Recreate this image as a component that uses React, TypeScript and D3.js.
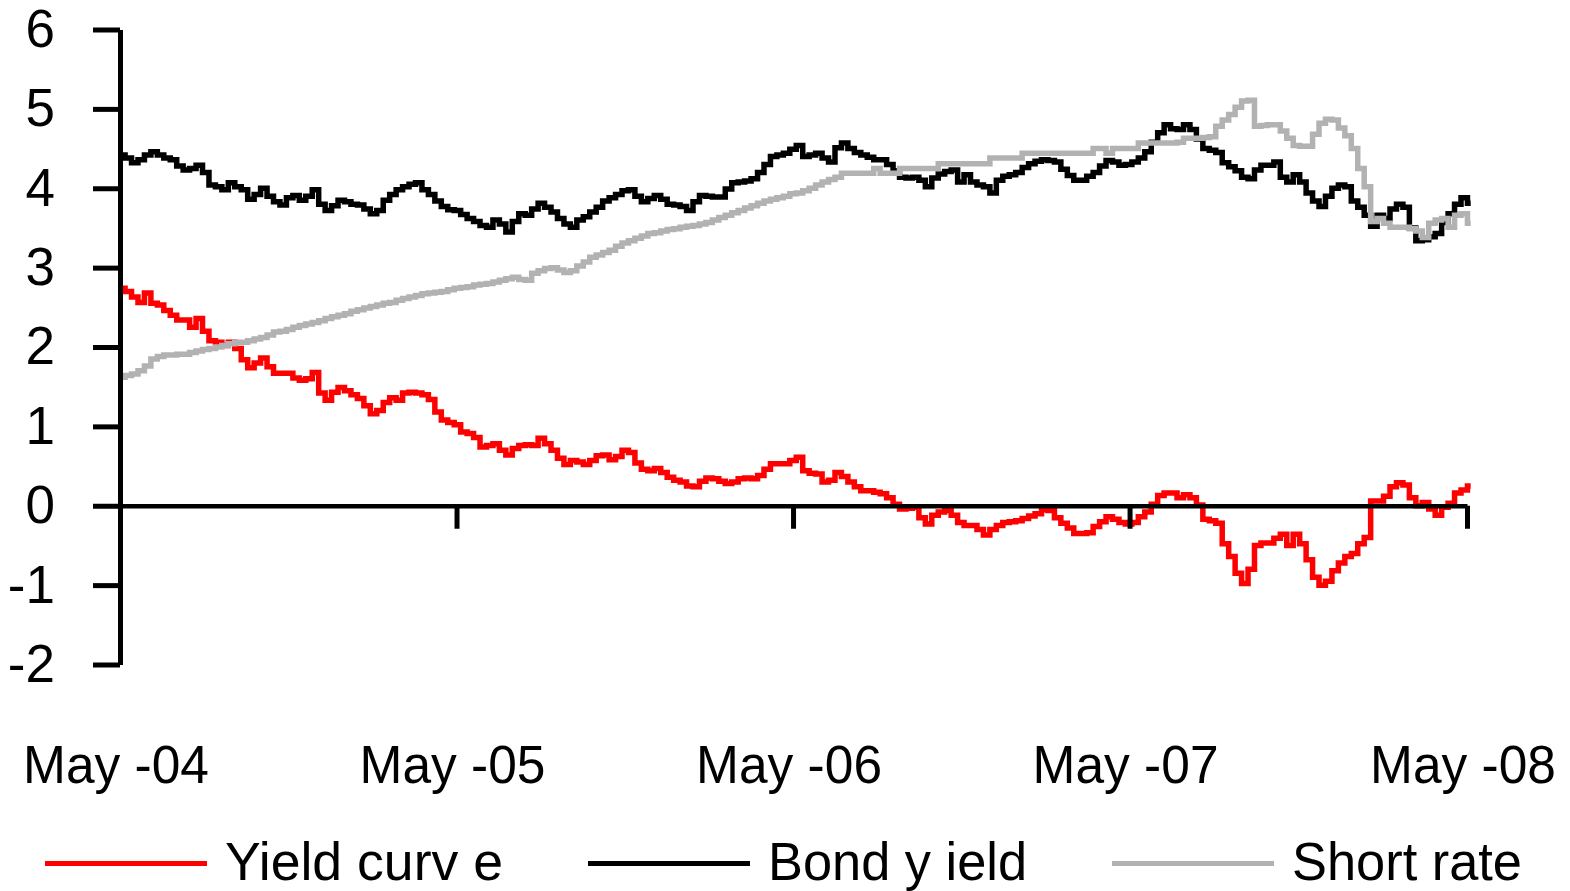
import React, { useRef, useEffect } from "react";
import * as d3 from "d3";

// weekly readings, May-04 .. May-08
const yieldCurve = [
  2.74, 2.7, 2.63, 2.56, 2.68, 2.55, 2.53, 2.46, 2.4, 2.34,
  2.34, 2.25, 2.36, 2.2, 2.08, 2.06, 2.02, 2.06, 1.98, 1.84,
  1.74, 1.8, 1.86, 1.75, 1.67, 1.67, 1.67, 1.61, 1.58, 1.6,
  1.68, 1.42, 1.33, 1.43, 1.49, 1.45, 1.4, 1.35, 1.26, 1.16,
  1.2, 1.3, 1.36, 1.33, 1.42, 1.43, 1.42, 1.4, 1.34, 1.18,
  1.08, 1.05, 1.02, 0.93, 0.91, 0.86, 0.74, 0.76, 0.78, 0.7,
  0.64, 0.72, 0.76, 0.77, 0.76, 0.85, 0.78, 0.7, 0.6, 0.52,
  0.57, 0.55, 0.52, 0.57, 0.63, 0.64, 0.58, 0.62, 0.7, 0.67,
  0.54, 0.46, 0.44, 0.47, 0.42, 0.36, 0.32, 0.3, 0.25, 0.24,
  0.31, 0.35, 0.34, 0.31, 0.28, 0.3, 0.34, 0.35, 0.34, 0.38,
  0.46, 0.53, 0.53, 0.53, 0.57, 0.61, 0.44, 0.41, 0.4, 0.3,
  0.32, 0.42, 0.37, 0.3, 0.24, 0.19, 0.19, 0.17, 0.15, 0.1,
  0.02, -0.04, -0.03, -0.02, -0.15, -0.23, -0.12, -0.08, -0.06, -0.12,
  -0.21, -0.25, -0.25, -0.3, -0.37, -0.3, -0.25, -0.21, -0.2, -0.19,
  -0.16, -0.13, -0.1, -0.05, -0.06, -0.15, -0.22, -0.28, -0.35, -0.35,
  -0.34, -0.26, -0.2, -0.14, -0.17, -0.21, -0.23, -0.21, -0.14, -0.08,
  0.02, 0.13, 0.16, 0.16, 0.1, 0.14, 0.1, 0.01, -0.17, -0.19,
  -0.22, -0.48, -0.64, -0.85, -0.98, -0.8, -0.5, -0.47, -0.47, -0.41,
  -0.36, -0.5, -0.36, -0.48, -0.68, -0.9, -1.0, -0.95, -0.82, -0.72,
  -0.64, -0.6, -0.48, -0.4, 0.06, 0.06, 0.12, 0.24, 0.29, 0.26,
  0.1, 0.0, 0.04, -0.04, -0.12, -0.02, 0.03, 0.16, 0.2, 0.25,
];

const bondYield = [
  4.42, 4.38, 4.32, 4.36, 4.42, 4.46, 4.42, 4.38, 4.36, 4.28,
  4.23, 4.25, 4.29, 4.2, 4.04, 4.02, 3.98, 4.07, 4.02, 3.98,
  3.86, 3.92, 4.0, 3.9, 3.83, 3.79, 3.88, 3.91, 3.85, 3.9,
  3.98, 3.8, 3.72, 3.78, 3.85, 3.83, 3.8, 3.79, 3.74, 3.68,
  3.72, 3.85, 3.92, 3.98, 4.02, 4.05, 4.07, 3.98, 3.92, 3.84,
  3.77, 3.73, 3.72, 3.67, 3.62, 3.58, 3.53, 3.51, 3.6, 3.55,
  3.45, 3.58, 3.68, 3.66, 3.74, 3.81, 3.76, 3.7, 3.62, 3.55,
  3.51, 3.6, 3.64, 3.7, 3.76, 3.84, 3.88, 3.92, 3.97, 3.98,
  3.9, 3.83, 3.87, 3.91, 3.86, 3.8, 3.79, 3.77, 3.72, 3.83,
  3.91, 3.9, 3.89, 3.89, 3.99, 4.07, 4.08, 4.09, 4.12, 4.2,
  4.3, 4.4, 4.42, 4.44, 4.49, 4.54, 4.4, 4.42, 4.44, 4.38,
  4.33, 4.51, 4.57, 4.5, 4.45, 4.42, 4.39, 4.36, 4.36, 4.3,
  4.22, 4.14, 4.13, 4.14, 4.1, 4.02, 4.13, 4.18, 4.21, 4.23,
  4.08, 4.17, 4.08, 4.04, 4.02, 3.94, 4.1, 4.15, 4.17, 4.2,
  4.26, 4.31, 4.34, 4.36, 4.35, 4.33, 4.24, 4.16, 4.1, 4.1,
  4.15, 4.2, 4.28, 4.35, 4.33, 4.29, 4.3, 4.33, 4.38, 4.46,
  4.58, 4.7, 4.8, 4.75, 4.74, 4.8, 4.74, 4.62, 4.5, 4.48,
  4.45, 4.32, 4.27, 4.22, 4.14, 4.12, 4.23, 4.29, 4.29, 4.33,
  4.14, 4.08, 4.17, 4.08, 3.94, 3.84, 3.77, 3.9, 4.0, 4.04,
  4.02, 3.84, 3.76, 3.66, 3.52, 3.66, 3.62, 3.74, 3.8, 3.76,
  3.5, 3.34, 3.35, 3.39, 3.43, 3.57, 3.68, 3.8, 3.88, 3.81,
];

const shortRate = [
  1.62, 1.64, 1.66, 1.7, 1.76, 1.85, 1.88, 1.9, 1.9, 1.91,
  1.91, 1.93, 1.95, 1.97, 1.98, 2.0, 2.02, 2.04, 2.06, 2.06,
  2.08, 2.1, 2.12, 2.15, 2.19, 2.2, 2.22, 2.25, 2.27, 2.29,
  2.31, 2.33, 2.36, 2.38, 2.4, 2.42, 2.45, 2.47, 2.49, 2.51,
  2.53, 2.55, 2.56, 2.59, 2.61, 2.63, 2.65, 2.67, 2.68, 2.69,
  2.7, 2.72, 2.74, 2.75, 2.76, 2.78, 2.79, 2.8, 2.82, 2.84,
  2.86, 2.88, 2.85, 2.84, 2.93, 2.96, 2.99, 3.0, 2.97, 2.94,
  2.96, 3.02, 3.07, 3.13, 3.16, 3.19, 3.22, 3.27, 3.31, 3.34,
  3.37, 3.4, 3.43, 3.44, 3.46, 3.48, 3.49, 3.51, 3.52, 3.53,
  3.55, 3.57, 3.6, 3.63, 3.66, 3.69, 3.72, 3.75, 3.78, 3.81,
  3.84, 3.86, 3.88, 3.9, 3.93, 3.94, 3.97, 4.0, 4.04, 4.08,
  4.11, 4.14, 4.19, 4.19, 4.19, 4.19, 4.19, 4.25, 4.19, 4.19,
  4.19, 4.25, 4.25, 4.25, 4.25, 4.25, 4.25, 4.31, 4.31, 4.31,
  4.31, 4.31, 4.31, 4.31, 4.31, 4.38, 4.38, 4.38, 4.38, 4.38,
  4.44, 4.44, 4.44, 4.44, 4.44, 4.44, 4.44, 4.44, 4.44, 4.44,
  4.44, 4.5, 4.5, 4.44, 4.5, 4.5, 4.5, 4.5, 4.57, 4.57,
  4.57, 4.57, 4.57, 4.57, 4.58, 4.63, 4.63, 4.63, 4.64, 4.65,
  4.78, 4.86, 4.93, 5.02, 5.1, 5.11, 4.78, 4.79, 4.8, 4.8,
  4.72, 4.63, 4.54, 4.53, 4.53, 4.68, 4.82, 4.87, 4.86, 4.76,
  4.66, 4.5, 4.25, 4.02, 3.58, 3.62, 3.56, 3.51, 3.51, 3.51,
  3.49, 3.46, 3.38, 3.56, 3.6, 3.62, 3.51, 3.66, 3.68, 3.56,
];

const seriesNames = ["Yield curv e", "Bond y ield", "Short rate"];
const seriesColors = ["#ff0000", "#000000", "#b2b2b2"];
const yTicks = [-2, -1, 0, 1, 2, 3, 4, 5, 6];
const xTickYears = [2004, 2005, 2006, 2007, 2008];
const xTickLabels = ["May -04", "May -05", "May -06", "May -07", "May -08"];

const FONT = "'Liberation Sans', Arial, sans-serif";

const App: React.FC = () => {
  const svgRef = useRef<SVGSVGElement>(null);

  useEffect(() => {
    if (!svgRef.current) return;
    const svg = d3.select(svgRef.current);
    svg.selectAll("*").remove();

    const x = d3
      .scaleTime()
      .domain([new Date(2004, 4, 1), new Date(2008, 4, 1)])
      .range([120, 1467]);
    const y = d3.scaleLinear().domain([-2, 6]).range([664.5, 29.5]);

    const start = new Date(2004, 4, 3);
    const dates = bondYield.map((_, i) => d3.timeWeek.offset(start, i));

    const line = d3
      .line<number>()
      .x((_, i) => x(dates[i]))
      .y((d) => y(d))
      .curve(d3.curveStep);

    // series, drawn in legend order
    [yieldCurve, bondYield, shortRate].forEach((values, k) => {
      svg
        .append("path")
        .datum(values)
        .attr("fill", "none")
        .attr("stroke", seriesColors[k])
        .attr("stroke-width", 5.5)
        .attr("d", line);
    });

    // y axis
    const yAxis = svg
      .append("g")
      .attr("transform", "translate(120,0)")
      .call(
        d3
          .axisLeft(y)
          .tickValues(yTicks)
          .tickSize(27)
          .tickSizeOuter(0)
          .tickPadding(38)
          .tickFormat((d) => `${d}`)
      );
    yAxis.select(".domain").attr("stroke-width", 5);
    yAxis.selectAll(".tick line").attr("stroke-width", 5);
    yAxis
      .selectAll(".tick text")
      .attr("font-family", FONT)
      .attr("font-size", 53)
      .attr("fill", "#000");

    // x axis along zero
    const xAxis = svg
      .append("g")
      .attr("transform", `translate(0,${y(0)})`)
      .call(
        d3
          .axisBottom(x)
          .tickValues(xTickYears.map((yr) => new Date(yr, 4, 1)))
          .tickSize(23)
          .tickSizeOuter(0)
          .tickFormat(() => "")
      );
    xAxis.select(".domain").attr("stroke-width", 4.5);
    xAxis.selectAll(".tick line").attr("stroke-width", 5);

    svg
      .append("g")
      .selectAll("text")
      .data(xTickYears)
      .join("text")
      .attr("x", (yr) => x(new Date(yr, 4, 1)) - 4)
      .attr("y", 783)
      .attr("text-anchor", "middle")
      .attr("font-family", FONT)
      .attr("font-size", 54)
      .attr("textLength", 186)
      .attr("lengthAdjust", "spacingAndGlyphs")
      .text((_, i) => xTickLabels[i]);

    // legend
    const legendLineX = [45, 588, 1112];
    const legendTextW = [278, 259, 230];
    const legend = svg
      .append("g")
      .selectAll("g")
      .data(seriesNames)
      .join("g")
      .attr("transform", (_, i) => `translate(${legendLineX[i]},0)`);
    legend
      .append("line")
      .attr("x1", 0)
      .attr("x2", 162)
      .attr("y1", 863.5)
      .attr("y2", 863.5)
      .attr("stroke", (_, i) => seriesColors[i])
      .attr("stroke-width", 5);
    legend
      .append("text")
      .attr("x", 180)
      .attr("y", 880)
      .attr("font-family", FONT)
      .attr("font-size", 54)
      .attr("textLength", (_, i) => legendTextW[i])
      .attr("lengthAdjust", "spacingAndGlyphs")
      .text((d) => d);
  }, []);

  return (
    <div style={{ position: "absolute", left: 0, top: 0, background: "#fff" }}>
      <svg ref={svgRef} width={1570} height={891} style={{ display: "block" }} />
    </div>
  );
};

export default App;
